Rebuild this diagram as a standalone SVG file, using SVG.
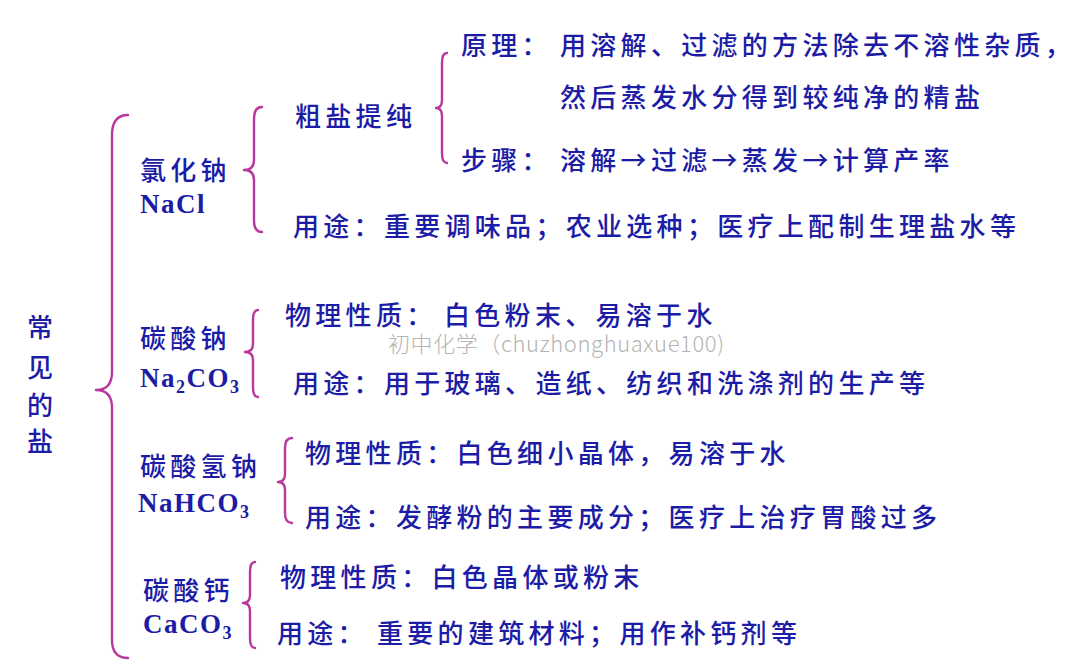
<svg xmlns="http://www.w3.org/2000/svg" width="1080" height="669" viewBox="0 0 1080 669">
<style>
.t{font-family:"Noto Sans CJK SC","Noto Sans",sans-serif;font-size:26px;font-weight:500;fill:#1c1ca6;letter-spacing:4.3px}
.f{font-family:"Liberation Serif","Noto Sans CJK SC",serif;font-size:27px;font-weight:bold;fill:#1c1ca6;letter-spacing:1.5px}
.s{font-size:18px}
.b{fill:none;stroke:#b8389e;stroke-width:2.4;stroke-linecap:round;stroke-linejoin:round}
.w{font-family:"Noto Sans CJK SC","Noto Sans",sans-serif;font-size:22px;font-weight:300;fill:#b4b4b4;letter-spacing:0.6px}
</style>
<rect width="1080" height="669" fill="#ffffff"/>
<g id="connectors">
<path class="b" d="M128,115 Q112,115 112,135 L112,372 Q112,390 96,390 Q112,390 112,408 L112,640 Q112,658 128,658"/>
<path class="b" d="M262,107 Q254,107 254,119 L254,160 Q254,170 244,170 Q254,170 254,180 L254,221 Q254,232 262,232"/>
<path class="b" d="M447,53 Q442,53 442,63 L442,100 Q442,108 436,108 Q442,108 442,116 L442,153 Q442,163 447,163"/>
<path class="b" d="M258,310 Q253,310 253,320 L253,344 Q253,352 245,352 Q253,352 253,360 L253,387 Q253,397 258,397"/>
<path class="b" d="M292,438 Q285,438 285,448 L285,474 Q285,482 278,482 Q285,482 285,490 L285,513 Q285,523 292,523"/>
<path class="b" d="M255,562 Q250,562 250,572 L250,595 Q250,603 243,603 Q250,603 250,611 L250,638 Q250,648 255,648"/>
</g>
<g id="root">
<text class="t" x="27" y="337">常</text>
<text class="t" x="27" y="377">见</text>
<text class="t" x="27" y="415">的</text>
<text class="t" x="27" y="451">盐</text>
</g>
<g id="nacl">
<text class="t" x="140" y="180">氯化钠</text>
<text class="f" x="140" y="213">NaCl</text>
</g>
<g id="purify">
<text class="t" x="295" y="126">粗盐提纯</text>
</g>
<g id="principle">
<text class="t" x="461" y="55">原理：</text>
<text class="t" x="560" y="55">用溶解、过滤的方法除去不溶性杂质，</text>
<text class="t" x="560" y="107">然后蒸发水分得到较纯净的精盐</text>
</g>
<g id="steps">
<text class="t" x="461" y="170">步骤：</text>
<text class="t" x="560" y="170">溶解→过滤→蒸发→计算产率</text>
</g>
<g id="nacl-use">
<text class="t" x="293" y="236">用途：重要调味品；农业选种；医疗上配制生理盐水等</text>
</g>
<g id="na2co3">
<text class="t" x="140" y="348">碳酸钠</text>
<text class="f" x="140" y="387">Na<tspan class="s" dy="6">2</tspan><tspan dy="-6">CO</tspan><tspan class="s" dy="6">3</tspan></text>
</g>
<g id="na2co3-prop">
<text class="t" x="285" y="325">物理性质：</text>
<text class="t" x="444" y="325">白色粉末、易溶于水</text>
</g>
<g id="watermark">
<text class="w" x="388" y="352">初中化学（chuzhonghuaxue100)</text>
</g>
<g id="na2co3-use">
<text class="t" x="293" y="393">用途：用于玻璃、造纸、纺织和洗涤剂的生产等</text>
</g>
<g id="nahco3">
<text class="t" x="140" y="476">碳酸氢钠</text>
<text class="f" x="138" y="512">NaHCO<tspan class="s" dy="6">3</tspan></text>
</g>
<g id="nahco3-prop">
<text class="t" x="305" y="463">物理性质：白色细小晶体，易溶于水</text>
</g>
<g id="nahco3-use">
<text class="t" x="305" y="527">用途：发酵粉的主要成分；医疗上治疗胃酸过多</text>
</g>
<g id="caco3">
<text class="t" x="143" y="600">碳酸钙</text>
<text class="f" x="143" y="633">CaCO<tspan class="s" dy="6">3</tspan></text>
</g>
<g id="caco3-prop">
<text class="t" x="280" y="587">物理性质：白色晶体或粉末</text>
</g>
<g id="caco3-use">
<text class="t" x="277" y="643">用途：</text>
<text class="t" x="377" y="643">重要的建筑材料；用作补钙剂等</text>
</g>
</svg>
